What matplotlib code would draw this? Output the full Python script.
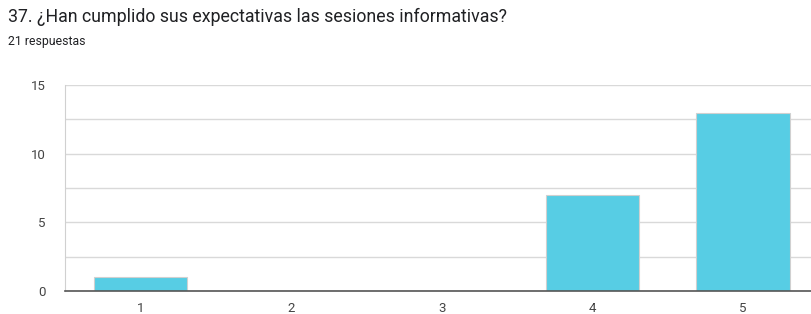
import matplotlib.pyplot as plt

plt.rcParams['font.family'] = ['Roboto', 'DejaVu Sans']

categories = ["1", "2", "3", "4", "5"]
counts = [1, 0, 0, 7, 13]
title = "37. ¿Han cumplido sus expectativas las sesiones informativas?"
subtitle = "21 respuestas"

fig = plt.figure(figsize=(8.11, 3.14), dpi=100)
ax = fig.add_axes([0.080, 0.073, 0.92, 0.656])

x = range(len(categories))
ax.bar(x, counts, width=0.62, color='#57cde4', edgecolor='#d0d0d0', linewidth=0.8, zorder=3)

ax.set_xlim(-0.5, 4.45)
ax.set_ylim(0, 15)
ax.set_yticks([0, 5, 10, 15])
ax.set_yticks([2.5, 7.5, 12.5], minor=True)
ax.set_xticks(list(x))
ax.set_xticklabels(categories)
ax.grid(axis='y', which='both', color='#d9d9d9', linewidth=1, zorder=0)
ax.tick_params(axis='both', which='both', length=0, labelsize=9.5, colors='#444444')
ax.tick_params(axis='y', pad=14)
ax.tick_params(axis='x', pad=8)

for s in ['top', 'right']:
    ax.spines[s].set_visible(False)
ax.spines['left'].set_color('#d0d0d0')
ax.spines['bottom'].set_color('#555555')
ax.spines['bottom'].set_linewidth(1.2)
ax.spines['bottom'].set_zorder(4)

fig.text(0.010, 0.945, title, fontsize=12.8, color='#202124', va='center')
fig.text(0.010, 0.868, subtitle, fontsize=8.8, color='#202124', va='center')

fig.savefig('out.png', dpi=100)
